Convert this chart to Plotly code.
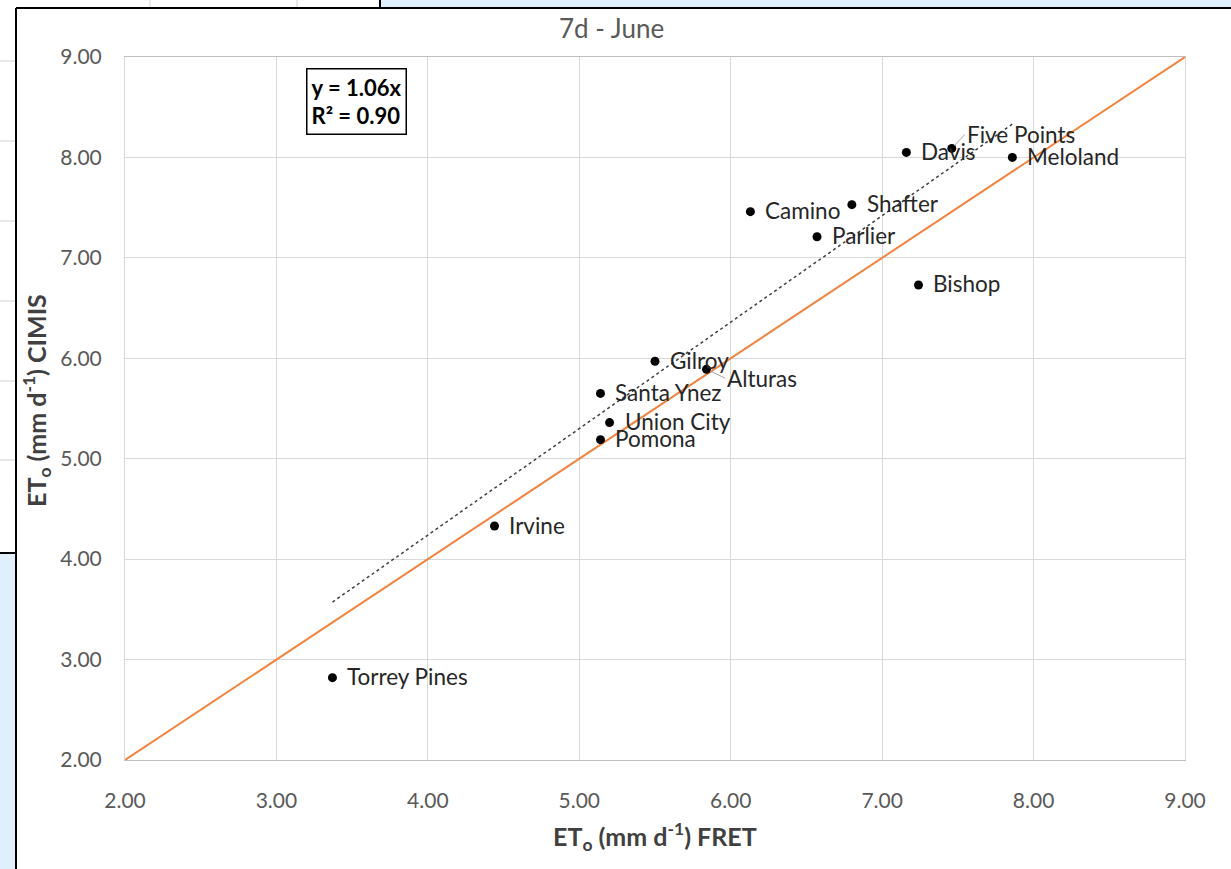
import plotly.graph_objects as go

# ETo (mm/d), 7-day June: FRET forecast vs CIMIS station
stations = ["Torrey Pines", "Irvine", "Pomona", "Union City", "Santa Ynez", "Gilroy",
            "Alturas", "Camino", "Shafter", "Parlier", "Bishop", "Davis",
            "Five Points", "Meloland"]
fret = [3.37, 4.44, 5.14, 5.20, 5.14, 5.50, 5.84, 6.13, 6.80, 6.57, 7.24, 7.16, 7.46, 7.86]
cimis = [2.82, 4.33, 5.19, 5.36, 5.65, 5.97, 5.89, 7.46, 7.53, 7.21, 6.73, 8.05, 8.09, 8.00]

trend_slope = 1.06
r_squared = 0.90
one_to_one = [2.0, 9.0]
tick_vals = [2, 3, 4, 5, 6, 7, 8, 9]

# labels shifted off their points with a leader line: (dx, dy) in px
leader_offsets = {"Five Points": (13, -14), "Alturas": (19, 9)}

W, H = 1231, 869
FONT = "Lato"
GRAY_TXT = "#595959"
GRID = "#D9D9D9"
LABEL_SIZE = 22.5


def px(x):
    return x / W


def py(y):
    return 1 - y / H


fig = go.Figure()

# 1:1 line
fig.add_trace(go.Scatter(x=one_to_one, y=one_to_one, mode="lines",
                         line=dict(color="#F08440", width=2), hoverinfo="skip"))

# linear trendline through the origin
tx = [min(fret), max(fret)]
fig.add_trace(go.Scatter(x=tx, y=[trend_slope * v for v in tx], mode="lines",
                         line=dict(color="#404040", width=1.5, dash="dot"),
                         hoverinfo="skip"))

# station points
fig.add_trace(go.Scatter(x=fret, y=cimis, mode="markers", text=stations,
                         marker=dict(color="black", size=9)))

annotations = []
for name, xv, yv in zip(stations, fret, cimis):
    if name in leader_offsets:
        dx, dy = leader_offsets[name]
        annotations.append(dict(x=xv, y=yv, xref="x", yref="y", text=name,
                                showarrow=True, arrowhead=0, arrowwidth=1,
                                arrowcolor="#A6A6A6", ax=dx, ay=dy,
                                xanchor="left", yanchor="middle", standoff=4,
                                font=dict(family=FONT, size=LABEL_SIZE, color="#262626")))
    else:
        annotations.append(dict(x=xv, y=yv, xref="x", yref="y", text=name,
                                showarrow=False, xanchor="left", yanchor="middle",
                                xshift=13, yshift=1,
                                font=dict(family=FONT, size=LABEL_SIZE, color="#262626")))

# title, axis titles and equation box
annotations += [
    dict(x=px(611), y=py(28), xref="paper", yref="paper", text="7d - June",
         showarrow=False, xanchor="center", yanchor="middle",
         font=dict(family=FONT, size=26, color=GRAY_TXT)),
    dict(x=px(655), y=py(836), xref="paper", yref="paper",
         text="<b>ET<sub>o</sub> (mm d<sup>-1</sup>) FRET</b>",
         showarrow=False, xanchor="center", yanchor="middle",
         font=dict(family=FONT, size=25, color="#404040")),
    dict(x=px(37), y=py(401), xref="paper", yref="paper",
         text="<b>ET<sub>o</sub> (mm d<sup>-1</sup>) CIMIS</b>", textangle=-90,
         showarrow=False, xanchor="center", yanchor="middle",
         font=dict(family=FONT, size=25, color="#404040")),
    dict(x=px(306), y=py(68), xref="paper", yref="paper",
         text=f"<b>y = {trend_slope:.2f}x<br>R² = {r_squared:.2f}</b>",
         showarrow=False, xanchor="left", yanchor="top", align="left",
         bordercolor="black", borderwidth=1.5, borderpad=4, bgcolor="white",
         font=dict(family=FONT, size=22, color="black")),
]

# surrounding sheet: blue panels, frame edges and cell grid
shapes = [
    dict(type="rect", xref="paper", yref="paper", x0=px(380), x1=1, y0=py(8), y1=1,
         fillcolor="#DFEFFC", line=dict(width=0), layer="below"),
    dict(type="rect", xref="paper", yref="paper", x0=0, x1=px(16), y0=0, y1=py(553),
         fillcolor="#DFEFFC", line=dict(width=0), layer="below"),
]
for gx in (150, 297):
    shapes.append(dict(type="line", xref="paper", yref="paper", x0=px(gx), x1=px(gx),
                       y0=py(0), y1=py(8), line=dict(color="#D0D0D0", width=1)))
for gy in (61, 141, 221, 301, 381, 460):
    shapes.append(dict(type="line", xref="paper", yref="paper", x0=0, x1=px(16),
                       y0=py(gy), y1=py(gy), line=dict(color="#D0D0D0", width=1)))
for (x0, y0, x1, y1) in [(16, 8, W, 8), (16, 8, 16, H), (380, 0, 380, 8), (0, 553, 16, 553)]:
    shapes.append(dict(type="line", xref="paper", yref="paper", x0=px(x0), x1=px(x1),
                       y0=py(y0), y1=py(y1), line=dict(color="black", width=2)))

axis_common = dict(range=[2, 9], tickvals=tick_vals, tickformat=".2f",
                   showgrid=True, gridcolor=GRID, gridwidth=1,
                   showline=True, mirror=True, linecolor=GRID, linewidth=1,
                   zeroline=False, ticks="", automargin=False,
                   tickfont=dict(family=FONT, size=21, color=GRAY_TXT))

fig.update_layout(
    width=W, height=H, autosize=False,
    margin=dict(l=0, r=0, t=0, b=0, pad=0),
    paper_bgcolor="white", plot_bgcolor="white",
    showlegend=False,
    xaxis=dict(domain=[px(125), px(1185)], ticklabelstandoff=22, **axis_common),
    yaxis=dict(domain=[py(760), py(57)], ticklabelstandoff=18, **axis_common),
    annotations=annotations,
    shapes=shapes,
)
fig.update_xaxes(linecolor="#BFBFBF")

fig.write_html("out.html")
